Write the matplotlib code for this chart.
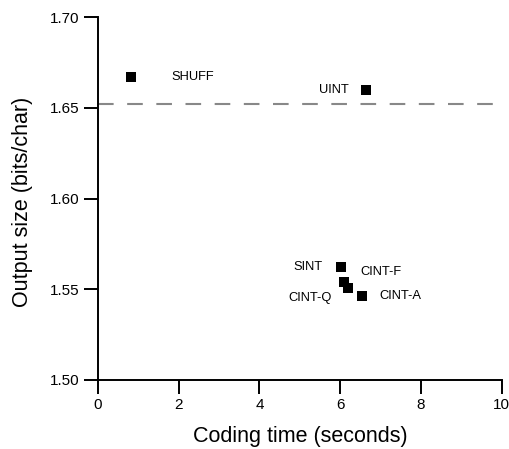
import matplotlib
matplotlib.use("Agg")
import matplotlib.pyplot as plt

# coding methods: time (s) vs output size (bits/char)
methods = ["SHUFF", "UINT", "SINT", "CINT-F", "CINT-Q", "CINT-A"]
coding_time = [0.81, 6.64, 6.01, 6.08, 6.20, 6.55]
output_size = [1.667, 1.660, 1.5624, 1.5542, 1.5505, 1.5463]
baseline = 1.652

# label placement (pixel offsets from the marker, horizontal alignment)
label_offsets = [(41, 0, "left"), (-17, 0, "right"), (-18, 0, "right"),
                 (17, 10, "left"), (-17, -10, "right"), (17, 0, "left")]

plt.rcParams["font.family"] = ["Liberation Sans", "DejaVu Sans"]

fig = plt.figure(figsize=(5.1, 4.49), dpi=100)
ax = fig.add_axes([0.192, 0.1537, 0.792, 0.8083])

ax.axhline(baseline, color="#888888", lw=1.5, dashes=(7.5, 6.5), zorder=1)
ax.scatter(coding_time, output_size, marker="s", s=55, color="black",
           linewidths=0, zorder=3)

for name, x, y, (dx, dy, ha) in zip(methods, coding_time, output_size, label_offsets):
    ax.annotate(name, (x, y), xytext=(dx, dy), textcoords="offset pixels",
                ha=ha, va="center", fontsize=9.3)

ax.set_xlim(0, 10)
ax.set_ylim(1.50, 1.70)
ax.set_xticks([0, 2, 4, 6, 8, 10])
ax.set_yticks([1.50, 1.55, 1.60, 1.65, 1.70])
ax.set_yticklabels(["1.50", "1.55", "1.60", "1.65", "1.70"])
ax.tick_params(direction="out", length=10, width=1.4, pad=3, labelsize=11)
for side in ("top", "right"):
    ax.spines[side].set_visible(False)
for side in ("left", "bottom"):
    ax.spines[side].set_linewidth(1.4)

ax.set_xlabel("Coding time (seconds)", fontsize=15.5, labelpad=10)
ax.set_ylabel("Output size (bits/char)", fontsize=15.5, labelpad=13)
ax.yaxis.set_label_coords(-0.16, 0.49)

fig.savefig("out.png", dpi=100)
